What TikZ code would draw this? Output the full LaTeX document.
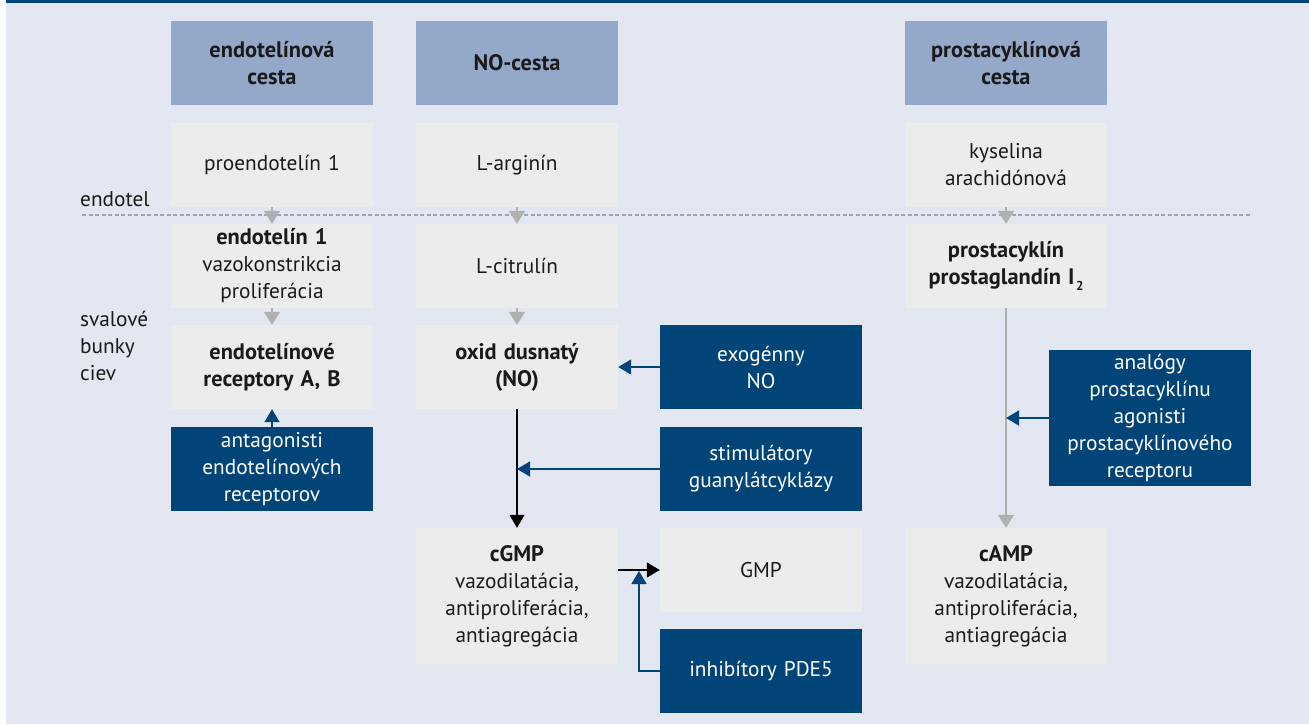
\documentclass[tikz,border=0pt]{standalone}
\usepackage{fontspec}
\setmainfont{PT Sans}
\usetikzlibrary{arrows.meta}
\definecolor{bg}{HTML}{E3E7F1}
\definecolor{hdr}{HTML}{94A8C9}
\definecolor{boxc}{HTML}{ECECEC}
\definecolor{dblue}{HTML}{004478}
\definecolor{garr}{HTML}{B0B0B0}
\definecolor{txt}{HTML}{1A1A1A}
\definecolor{dashc}{HTML}{A0A4AC}
\newcommand{\fs}{\fontsize{21.3}{27}\selectfont}
\newcommand{\bt}[1]{{\fontsize{22.4}{27}\selectfont\bfseries #1}}
\begin{document}
\begin{tikzpicture}[x=1pt,y=-1pt,
  base/.style={inner sep=0pt, minimum width=202pt, minimum height=84pt, align=center, text width=200pt, font=\fs},
  hdrbox/.style={base, fill=hdr, text=txt, font=\fontsize{22.4}{27}\selectfont\bfseries},
  graybox/.style={base, fill=boxc, text=txt},
  bluebox/.style={base, fill=dblue, text=white},
  tall/.style={minimum height=136pt},
  lbl/.style={inner sep=0pt, text=txt, font=\fs, align=left},
  garrow/.style={draw=garr, line width=1.5pt, -{Triangle[width=16pt,length=13pt,fill=garr]}},
  karrow/.style={draw=black, line width=1.3pt, -{Triangle[width=15pt,length=13pt,fill=black]}},
  barrow/.style={draw=dblue, line width=1.5pt, -{Triangle[width=15pt,length=13pt,fill=dblue]}}
]
\useasboundingbox (0,0) rectangle (1309,724);
\fill[white] (0,0) rectangle (1309,724);
\fill[bg] (6,0) rectangle (1309,724);
\fill[dblue] (6,0) rectangle (1309,3);

% headers
\node[hdrbox] (h1) at (272,63) {endotelínová\\cesta};
\node[hdrbox] (h2) at (517,63) {NO-cesta};
\node[hdrbox] (h3) at (1006,63) {prostacyklínová\\cesta};

% column 1
\node[graybox] (proendo) at (272,165) {proendotelín 1};
\node[graybox] (endo1) at (272,266) {\bt{endotelín 1}\\vazokonstrikcia\\proliferácia};
\node[graybox] (rec) at (272,367) {\bt{endotelínové}\\\bt{receptory A, B}};
\node[bluebox] (antag) at (272,469) {antagonisti\\endotelínových\\receptorov};

% column 2
\node[graybox] (larg) at (517,165) {L-arginín};
\node[graybox] (lcit) at (517,266) {L-citrulín};
\node[graybox] (oxid) at (517,367) {\bt{oxid dusnatý}\\\bt{(NO)}};
\node[graybox,tall] (cgmp) at (517,596) {\bt{cGMP}\\vazodilatácia,\\antiproliferácia,\\antiagregácia};
\node[bluebox] (exo) at (761,367) {exogénny\\NO};
\node[bluebox] (stim) at (761,469) {stimulátory\\guanylátcyklázy};
\node[graybox] (gmp) at (761,570) {GMP};
\node[bluebox] (inhib) at (761,671) {inhibítory PDE5};

% column 3
\node[graybox] (kys) at (1006,165) {kyselina\\arachidónová};
\node[graybox] (prost) at (1006,266) {\bt{prostacyklín}\\\bt{prostaglandín I\kern1.5pt\raisebox{-0.55ex}{\fontsize{13}{13}\selectfont 2}}};
\node[graybox,tall] (camp) at (1006,596) {\bt{cAMP}\\vazodilatácia,\\antiproliferácia,\\antiagregácia};
\node[bluebox,tall] (analog) at (1150,418) {analógy\\prostacyklínu\\agonisti\\prostacyklínového\\receptoru};

% side labels
\node[lbl, anchor=base west] (endotel) at (80,206) {endotel};
\node[lbl, anchor=north west] (sval) at (80,311) {svalové\\bunky\\ciev};

% dashed boundary
\coordinate (dl) at (82,215);
\coordinate (dr) at (1252,215);
\draw[draw=dashc, line width=1.1pt, dash pattern=on 4pt off 2.5pt] (dl) -- (dr);

% gray arrows
\draw[garrow] (proendo.south) -- (endo1.north);
\draw[garrow] (endo1.south) -- (rec.north);
\draw[garrow] (larg.south) -- (lcit.north);
\draw[garrow] (lcit.south) -- (oxid.north);
\draw[garrow] (kys.south) -- (prost.north);
\draw[garrow] (prost.south) -- (camp.north);

% black arrows
\draw[karrow] (oxid.south) -- (cgmp.north);
\draw[karrow] (cgmp.east |- gmp.west) -- (gmp.west);

% blue arrows
\coordinate (pj) at (639,571);
\draw[barrow] (antag.north) -- (rec.south);
\draw[barrow] (exo.west) -- (oxid.east);
\draw[barrow] (stim.west) -- (stim.west -| oxid.south);
\draw[barrow] (inhib.west) -| (pj);
\draw[barrow] (analog.west) -- (analog.west -| prost.south);
\end{tikzpicture}
\end{document}
